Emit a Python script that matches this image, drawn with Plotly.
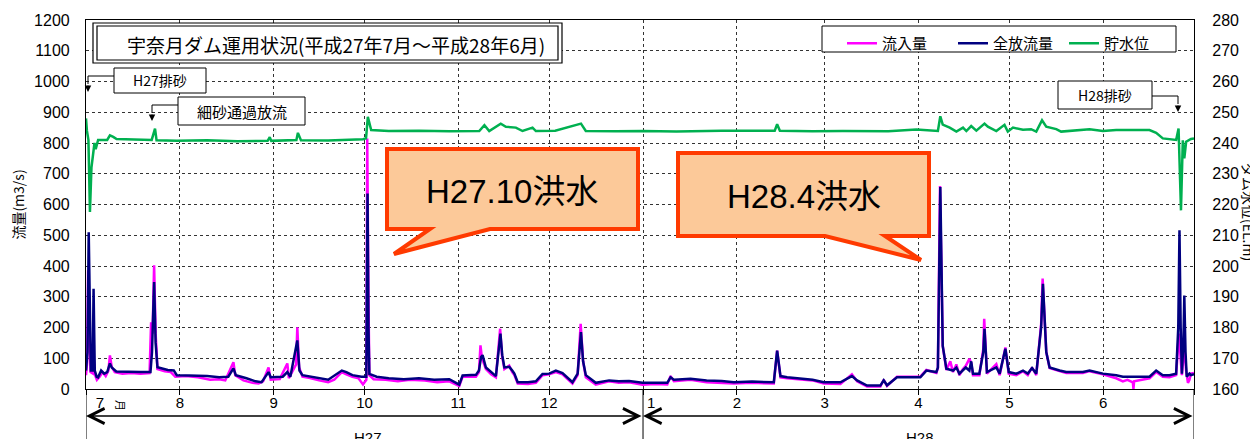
import plotly.graph_objects as go

# ---------------- data (day index from 2015-07-01) ----------------
inflow_day = [0, 0.4, 0.7, 1.1, 1.5, 2.3, 2.6, 3, 3.6, 4.5, 5.5, 6.5, 7.4, 7.9, 8.5, 9.5, 12, 15, 18, 21, 21.5, 22, 22.5, 23, 23.6,
              26, 28, 29.5, 33, 37, 41, 44, 46, 48.7, 49.3, 52, 55, 57, 58.5, 60.3, 61, 64, 66.5, 67, 69.4, 69.8, 70.4, 71.5,
              74, 77, 80, 82, 84.5, 86, 88, 90, 91.5, 92.6, 92.9, 93.3, 93.6, 95, 99, 103, 107, 112, 116, 120, 123.3, 124.4,
              128.8, 129.8, 130.3, 130.8, 132.1, 133.8, 135.4, 136.8, 137.4, 138.2, 139.8, 140.8, 141.5, 142.6, 146, 148.6,
              150.8, 153, 155.2, 157.4, 160.7, 162.4, 163.4, 164.2, 165.1, 168.4, 172.8, 176, 179.4, 183.8, 188, 192, 193.1,
              194.2, 199.7, 205, 210, 214, 220, 227.2, 228.3, 229, 229.4, 231.6, 236, 240, 243.7, 249.2, 253, 254.7, 258,
              262.4, 263.5, 264.6, 267.9, 272, 275.6, 277.6, 280.9, 281.4, 282.1, 283, 284.2, 285.5, 286.4, 287.5, 288.5,
              289.7, 290.6, 291.8, 292.4, 293, 295.1, 296.4, 296.7, 297.6, 300.7, 301.8, 303.7, 304.8, 307.3, 309.5, 311.1,
              312.5, 313.9, 315.5, 316, 317.2, 318.3, 321.6, 323.8, 329.3, 331.5, 335.9, 340.3, 342.5, 344, 345.8, 346,
              346.2, 349, 351.3, 353.5, 355.7, 357.9, 360.1, 361, 361.5, 362, 362.8, 363.4, 364, 364.5, 365, 366]
inflow = [45, 90, 386, 150, 55, 50, 95, 45, 30, 40, 55, 42, 60, 109, 72, 55, 50, 52, 50, 52, 217, 180, 402, 180, 65,
          58, 55, 40, 42, 38, 30, 32, 28, 87, 45, 28, 20, 18, 25, 70, 30, 32, 83, 35, 80, 201, 70, 40,
          36, 28, 22, 30, 55, 48, 40, 35, 15, 30, 815, 300, 45, 32, 30, 25, 30, 28, 22, 25, 10, 40,
          40, 55, 142, 100, 65, 48, 38, 196, 110, 65, 76, 55, 45, 18, 16, 20,
          45, 48, 55, 48, 18, 45, 212, 90, 38, 14, 25, 20, 22, 14, 16, 15, 42,
          25, 30, 22, 20, 18, 20, 18, 125, 60, 38, 35, 32, 28, 18, 16, 48, 25, 8,
          8, 30, 10, 40, 40, 40, 62, 52, 68, 660, 140, 62, 90, 55, 80, 45,
          65, 75, 98, 85, 45, 45, 130, 228, 50, 81, 45, 135, 50, 45, 58, 45,
          70, 45, 210, 359, 120, 68, 58, 52, 52, 58, 48, 35, 25, 30, 22, 0,
          25, 30, 35, 55, 40, 38, 45, 180, 120, 45, 140, 60, 20, 30, 50, 52]

release_day = [0, 0.5, 0.9, 1.3, 1.6, 2.2, 2.5, 2.9, 3.5, 4, 5, 6, 7, 7.9, 8.5, 10, 14, 18, 21.3, 21.8, 22.5, 23, 23.6,
               27, 29, 30, 34, 40, 44, 47, 48.7, 49.5, 53, 56, 58, 60.3, 61, 65, 66.5, 67.5, 69.8, 70.5, 71.5, 75, 78,
               80, 84.5, 86, 88, 91, 92.6, 93.0, 93.3, 93.6, 96, 100, 105, 110, 115, 120, 123.3, 124.4, 128.8, 129.8,
               130.5, 131, 132.1, 133.8, 135.4, 136.9, 137.5, 138.2, 139.8, 140.8, 141.5, 142.6, 146, 148.6, 150.8, 153,
               155.2, 157.4, 160.7, 162.4, 163.5, 164.2, 165.1, 168.4, 172.8, 176, 179.4, 183.8, 188, 192, 193.1, 194.2,
               199.7, 205, 210, 214, 220, 227.2, 228.3, 229, 229.4, 231.6, 236, 240, 243.7, 249.2, 253, 254.7, 258,
               262.4, 263.5, 264.6, 267.9, 272, 275.6, 277.6, 280.9, 281.4, 282.2, 283, 284.2, 286.4, 287.5, 288.5,
               289.7, 290.6, 291.8, 292.4, 293, 295.1, 296.4, 296.8, 297.6, 300.7, 301.8, 303.7, 304.8, 307.3, 309.5,
               311.1, 312.5, 313.9, 315.5, 316.1, 317.2, 318.3, 321.6, 323.8, 329.3, 331.5, 335.9, 340.3, 342.5, 345.8,
               351.3, 353.5, 355.7, 357.9, 360.1, 360.8, 361.2, 361.6, 362, 362.5, 362.8, 363.2, 363.6, 364.5, 365, 366]
release = [60, 120, 510, 300, 60, 60, 326, 60, 40, 38, 60, 50, 55, 83, 70, 57, 55, 55, 55, 120, 348, 150, 71,
           62, 60, 45, 44, 42, 38, 40, 67, 45, 35, 25, 22, 55, 38, 40, 55, 40, 158, 60, 45, 38, 32,
           30, 60, 55, 45, 40, 40, 636, 200, 49, 40, 35, 32, 35, 30, 32, 14, 44, 46, 60,
           104, 110, 70, 55, 42, 180, 110, 70, 72, 60, 50, 22, 22, 25, 49, 50,
           60, 52, 22, 50, 185, 90, 45, 20, 28, 25, 26, 20, 20, 20, 38, 30,
           33, 28, 26, 22, 24, 22, 125, 60, 42, 38, 35, 30, 22, 22, 42, 28, 11,
           11, 28, 12, 38, 38, 38, 60, 55, 70, 657, 140, 66, 60, 70, 50,
           60, 70, 60, 90, 50, 50, 120, 196, 55, 70, 50, 131, 55, 50, 60,
           50, 68, 50, 200, 342, 120, 70, 60, 55, 55, 60, 50, 45, 40, 40,
           40, 60, 45, 45, 50, 200, 516, 200, 50, 150, 304, 120, 40, 50, 45, 48]

level_day = [0, 0.3, 0.8, 1.3, 1.8, 2.4, 2.8, 3.2, 4, 7, 7.9, 9, 10.1, 21.7, 22.3, 22.8, 23.3, 30, 40, 50, 60, 60.7, 61.2,
             69.5, 70, 71, 80, 91.5, 92.5, 93.1, 94.2, 100, 110, 120, 129.9, 131.6, 133.2, 137, 138.7, 142, 144.2, 147.5,
             148.6, 155, 163.5, 165.1, 175, 183.8, 195, 210, 227.5, 228.3, 229.2, 240, 250, 265, 274.3, 281.4, 282.2, 283,
             285.3, 287.5, 289.7, 290.8, 292.4, 294.1, 296.8, 297.9, 300.7, 303.4, 304.5, 306.2, 309.5, 312.2, 313.9,
             315.8, 317.2, 320.5, 322.1, 329.3, 331.5, 335.9, 340.3, 351.3, 353.5, 355.7, 360.1, 360.9, 361.7, 362.3,
             362.8, 363.4, 365, 366]
level = [248, 244, 241, 217.6, 232, 236.7, 240, 238, 241, 241, 242.5, 242, 241.3, 241, 243, 244.7, 240.9, 240.7, 240.9,
         240.6, 240.7, 241.9, 240.7, 241, 243.3, 240.9, 240.8, 241.2, 241.5, 248.5, 244.2, 243.9, 244, 243.8, 243.9,
         245.8, 243.9, 246.3, 245.3, 245, 243.9, 245, 243.9, 244, 246.3, 243.9, 243.8, 243.9, 243.7, 244, 244, 246.1,
         244, 243.8, 243.9, 243.8, 244.4, 243.9, 248.7, 246, 245, 243.7, 245, 243.9, 245.5, 244, 246.3, 245.3, 243.9,
         245.9, 243.7, 245, 244.3, 244.5, 243.7, 247.4, 245.3, 244.5, 243.7, 244.3, 244.5, 243.9, 244.2, 244.2, 243.3,
         241.5, 241, 244.7, 218.1, 240.9, 235, 240.4, 241.3, 241.5]

month_starts = [0, 31, 62, 92, 123, 153, 184, 215, 244, 275, 305, 336, 366]
month_label_pos = [4.6, 31, 62, 92, 123, 153, 186.7, 215, 244, 275, 305, 336]
month_labels = ["7", "8", "9", "10", "11", "12", "1", "2", "3", "4", "5", "6"]

# ---------------- layout helpers (page pixel -> paper) ----------------
OFF = 8                      # page body margin
W, H = 1250, 431
L, R, T, B = 78, 64, 12, 50
PW, PH = W - L - R, H - T - B


def fx(x):
    return (x - OFF - L) / PW


def fy(y):
    return (H - B - (y - OFF)) / PH


NUMF = "Liberation Sans Narrow, Liberation Sans, Noto Sans CJK JP"
JPF = "Noto Sans CJK JP"
TXF = "Liberation Sans, Noto Sans CJK JP"

fig = go.Figure()
fig.add_trace(go.Scatter(x=inflow_day, y=inflow, name="流入量", mode="lines",
                         line=dict(color="#FF00FF", width=2.5)))
fig.add_trace(go.Scatter(x=release_day, y=release, name="全放流量", mode="lines",
                         line=dict(color="#000080", width=2.5)))
fig.add_trace(go.Scatter(x=level_day, y=level, name="貯水位", mode="lines", yaxis="y2",
                         line=dict(color="#00B050", width=2.5)))

shapes = []
annotations = []


def label(x, y, text, size, family=JPF, angle=0):
    annotations.append(dict(xref="paper", yref="paper", x=fx(x), y=fy(y), text=text, showarrow=False,
                            xanchor="center", yanchor="middle", textangle=angle,
                            font=dict(family=family, size=size, color="black")))


# title double box
shapes.append(dict(type="rect", xref="paper", yref="paper", x0=fx(93), x1=fx(562), y0=fy(63), y1=fy(23),
                   line=dict(color="black", width=1.2), fillcolor="white", layer="above"))
shapes.append(dict(type="rect", xref="paper", yref="paper", x0=fx(97), x1=fx(558), y0=fy(60), y1=fy(26),
                   line=dict(color="black", width=1.2), layer="above"))
label(336, 44, "宇奈月ダム運用状況(平成27年7月～平成28年6月)", 19)

# legend frame
shapes.append(dict(type="rect", xref="paper", yref="paper", x0=fx(822), x1=fx(1176), y0=fy(52), y1=fy(26),
                   line=dict(color="black", width=1), fillcolor="white", layer="above"))


def callout(x0, x1, y0, y1, text, line_pts, tip, fsize=14):
    shapes.append(dict(type="rect", xref="paper", yref="paper", x0=fx(x0), x1=fx(x1), y0=fy(y1), y1=fy(y0),
                       line=dict(color="black", width=1), fillcolor="white", layer="above"))
    label((x0 + x1) / 2, (y0 + y1) / 2, text, fsize)
    path = "M " + " L ".join(f"{fx(a)},{fy(b)}" for a, b in line_pts)
    shapes.append(dict(type="path", xref="paper", yref="paper", path=path,
                       line=dict(color="black", width=1), layer="above"))
    annotations.append(dict(xref="paper", yref="paper", x=fx(tip[0]), y=fy(tip[1]), text="", showarrow=True,
                            ax=0, ay=-8, arrowhead=2, arrowsize=1.3, arrowwidth=1, arrowcolor="black"))


callout(114, 206, 68, 93, "H27排砂", [(114, 76), (88, 76), (88, 84)], (88, 92))
callout(178, 305, 97, 125, "細砂通過放流", [(178, 105), (152, 105), (152, 113)], (152, 121), 15)
callout(1058, 1152, 81, 109, "H28排砂", [(1152, 96), (1178, 96), (1178, 104)], (1178, 112))


def bubble(pts, text, cx, cy):
    path = "M " + " L ".join(f"{fx(a)},{fy(b)}" for a, b in pts) + " Z"
    shapes.append(dict(type="path", xref="paper", yref="paper", path=path, fillcolor="#FCC999",
                       line=dict(color="#FF3A00", width=4), layer="above"))
    label(cx, cy, text, 33, TXF)


bubble([(387, 149), (638, 149), (638, 229), (490, 229), (394, 254), (430, 229), (387, 229)], "H27.10洪水", 512, 191)
bubble([(678, 153), (929, 153), (929, 236), (885, 236), (921, 260), (825, 236), (678, 236)], "H28.4洪水", 804, 197)

# year divider lines below the axis
for d in [0, 184, 366]:
    shapes.append(dict(type="line", xref="x", yref="paper", x0=d, x1=d, y0=0, y1=fy(445),
                       line=dict(color="black", width=1)))

# year arrows
for a, b in [(0, 184), (184, 366)]:
    annotations.append(dict(xref="x", yref="paper", x=a, y=fy(416), axref="x", ax=b, ayref="pixel", ay=0,
                            text="", showarrow=True, arrowside="end+start", arrowhead=5, startarrowhead=5,
                            arrowsize=2, startarrowsize=2, arrowwidth=1.5, arrowcolor="black"))
label(368, 437, "H27", 15, NUMF)
label(920, 437, "H28", 15, NUMF)
label(121, 405, "月", 11, JPF, 90)
# right axis title
label(1249, 212, "ダム水位(EL.m)", 14, JPF, 90)

fig.update_layout(
    width=W, height=H, margin=dict(l=L, r=R, t=T, b=B, autoexpand=False),
    paper_bgcolor="white", plot_bgcolor="white",
    showlegend=True,
    legend=dict(orientation="h", x=fx(842), y=fy(27), xanchor="left", yanchor="top",
                bgcolor="rgba(0,0,0,0)", borderwidth=0,
                font=dict(family=JPF, size=15, color="black"),
                entrywidth=66, entrywidthmode="pixels", tracegroupgap=0),
    xaxis=dict(range=[0, 366], tickmode="array", tickvals=month_label_pos, ticktext=month_labels,
               showgrid=False, ticks="", ticklabelstandoff=0, automargin=False,
               showline=True, linecolor="black", linewidth=1.2, mirror=True, zeroline=False,
               tickfont=dict(family=NUMF, size=15, color="black"),
               minor=dict(tickmode="array", tickvals=month_starts, showgrid=True, gridcolor="#333",
                          griddash="dot", gridwidth=1, ticks="outside", ticklen=5, tickcolor="black")),
    yaxis=dict(range=[0, 1200], dtick=100, showgrid=True, gridcolor="#333", griddash="dot", gridwidth=1,
               zeroline=False, showline=True, linecolor="black", linewidth=1.2, mirror=True,
               ticks="", ticklabelstandoff=12, automargin=False,
               tickfont=dict(family=NUMF, size=16, color="black"),
               title=dict(text="流量(m3/s)", font=dict(family=JPF, size=14, color="black"), standoff=22)),
    yaxis2=dict(range=[160, 280], dtick=10, overlaying="y", side="right", showgrid=False, zeroline=False,
                ticks="", ticklabelstandoff=14, showline=True, linecolor="black", linewidth=1.2,
                automargin=False,
                tickfont=dict(family=NUMF, size=16, color="black")),
    shapes=shapes, annotations=annotations,
)

fig.write_html("out.html")
